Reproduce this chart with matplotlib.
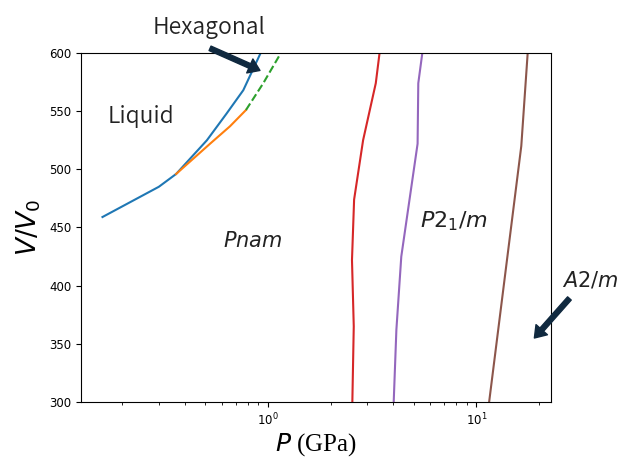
import matplotlib
matplotlib.use("Agg")
import matplotlib.pyplot as plt

# phase boundaries, pressure (GPa) vs V/V0
liq_P = [0.161, 0.30, 0.363, 0.51, 0.634, 0.762, 0.923]
liq_V = [459, 485, 496, 525, 548, 568, 600]

hex_P = [0.363, 0.528, 0.658, 0.785]
hex_V = [496, 522, 537, 551]

hex_ext_P = [0.785, 0.95, 1.154]
hex_ext_V = [551, 574, 600]

pnam_P = [2.54, 2.58, 2.53, 2.59, 2.86, 3.29, 3.43]
pnam_V = [300, 365, 422, 474, 525, 574, 600]

p21m_P = [4.01, 4.13, 4.36, 5.22, 5.26, 5.50]
p21m_V = [300, 362, 425, 522, 574, 600]

a2m_P = [11.5, 16.4, 17.6]
a2m_V = [300, 520, 600]

arrow_col = '#10293f'
label_font = 'Noto Sans CJK JP'

fig = plt.figure(figsize=(6.23, 4.58), dpi=100)
ax = fig.add_axes([0.130, 0.1223, 0.754, 0.762])

ax.plot(liq_P, liq_V, color='C0', lw=1.5)
ax.plot(hex_P, hex_V, color='C1', lw=1.5)
ax.plot(hex_ext_P, hex_ext_V, color='C2', lw=1.5, ls='--')
ax.plot(pnam_P, pnam_V, color='C3', lw=1.5)
ax.plot(p21m_P, p21m_V, color='C4', lw=1.5)
ax.plot(a2m_P, a2m_V, color='C5', lw=1.5)

ax.set_xscale('log')
ax.set_xlim(0.127, 22.7)
ax.set_ylim(300, 600)
ax.tick_params(labelsize=8.5)

ax.set_ylabel(r'$V/V_0$', fontsize=19)
ax.set_xlabel(r'$P$ (GPa)', fontsize=18, family='Liberation Serif', labelpad=2)

# region labels
ax.text(0.171, 545, 'Liquid', family=label_font, fontsize=16.5,
        fontweight=350, color='#222222', va='center')
ax.text(0.607, 438, r'$\mathit{Pnam}$', fontsize=15, va='center', color='#222222')
ax.text(5.39, 455, r'$\mathit{P2}_{\mathit{1}}\mathit{/m}$', fontsize=16,
        va='center', color='#222222')
ax.text(25.6, 405, r'$\mathit{A2/m}$', fontsize=15, va='center',
        color='#222222', clip_on=False)
ax.text(0.524, 622, 'Hexagonal', family=label_font, fontsize=16.5,
        fontweight=350, color='#222222', ha='center', va='center',
        clip_on=False)

arrow = dict(facecolor=arrow_col, edgecolor=arrow_col, width=3.5,
             headwidth=11, headlength=8, shrink=0)
ax.annotate('', xy=(0.916, 585), xytext=(0.528, 604),
            arrowprops=arrow, annotation_clip=False)
ax.annotate('', xy=(18.95, 355), xytext=(27.9, 389),
            arrowprops=arrow, annotation_clip=False)

fig.savefig('out.png', dpi=100)
